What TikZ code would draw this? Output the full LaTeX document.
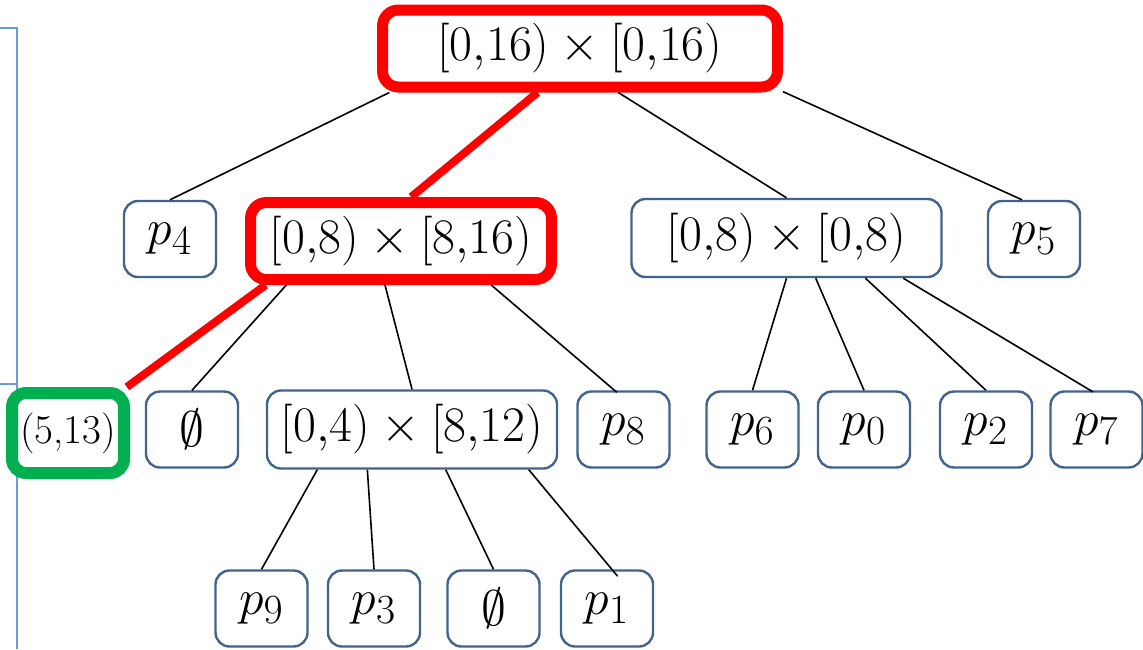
\documentclass[tikz,border=0pt]{standalone}
\definecolor{box-border}{HTML}{41648F}
\definecolor{path-red}{HTML}{FF0000}
\definecolor{hit-green}{HTML}{00B050}
\definecolor{frame-blue}{HTML}{6A9AD8}
\tikzset{
  leaf/.style={
    draw=box-border, line width=1.2pt, rounded corners=7pt,
    minimum width=46pt, minimum height=38pt, inner sep=0pt,
    font=\fontsize{24.88}{28}\selectfont
  },
  hot/.style={
    draw=path-red, line width=5.5pt, rounded corners=8pt,
    minimum height=38.5pt, inner sep=0pt, font=\fontsize{24.88}{28}\selectfont
  },
  found/.style={
    draw=hit-green, line width=6pt, rounded corners=7pt,
    minimum width=56pt, minimum height=40pt, inner sep=0pt,
    font=\fontsize{20.5}{24}\selectfont
  },
  link/.style={draw=black, line width=0.8pt},
  hotlink/.style={draw=path-red, line width=4pt},
  frame/.style={draw=frame-blue, line width=0.7pt}
}

\begin{document}
\begin{tikzpicture}[x=0.5pt, y=-0.5pt]
  \useasboundingbox (0,0) rectangle (1143,649);

  % ---- Left frame remains --------------------------------------------------
  \draw[frame] (0,28) -| (17,649);
  \draw[frame] (0,384) -- (17,384);

  % ---- Root and first level ------------------------------------------------
  \node[hot, minimum width=197.5pt] (root) at (580, 48.5) {$[0{,}16)\times[0{,}16)$};
  \node[leaf] (p4) at (170, 239) {$p_4$};
  \node[hot, minimum width=150.5pt] (nw) at (401, 241) {$[0{,}8)\times[8{,}16)$};
  \node[leaf, minimum width=155pt, minimum height=39pt] (sw) at (786.5, 238) {$[0{,}8)\times[0{,}8)$};
  \node[leaf] (p5) at (1034, 239) {$p_5$};

  % ---- Second level --------------------------------------------------------
  \node[found] (hit) at (68, 433) {(5,13)};
  \node[leaf] (empty1) at (192, 429.5) {$\emptyset$};
  \node[leaf, minimum width=145pt, minimum height=39pt] (nwsw) at (412, 429.5) {$[0{,}4)\times[8{,}12)$};
  \foreach \name/\x/\i in {p8/623.5/8, p6/752.5/6, p0/864/0, p2/986/2, p7/1096.5/7} {
    \node[leaf] (\name) at (\x, 429.5) {$p_{\i}$};
  }

  % ---- Third level ---------------------------------------------------------
  \foreach \name/\x/\i in {p9/261.5/9, p3/374/3, p1/607/1} {
    \node[leaf] (\name) at (\x, 608.5) {$p_{\i}$};
  }
  \node[leaf] (empty2) at (493.5, 608.5) {$\emptyset$};

  % ---- Connectors ----------------------------------------------------------
  \draw[link] (root.193) -- (p4.north);
  \draw[hotlink] (root.226) -- (nw.77);
  \draw[link] (root.311) -- (sw.north);
  \draw[link] (root.348) -- (p5.107);

  \draw[hotlink] (nw.198) -- (hit.38);
  \draw[link] (nw.201) -- (empty1.north);
  \draw[link] (nw.250) -- (nwsw.north);
  \draw[link, shorten >=-1.5pt] (nw.334) -- (p8.103);

  \draw[link] (sw.south) -- (p6.north);
  \draw[link] (sw.306) -- (p0.north);
  \draw[link] (sw.333) -- (p2.north);
  \draw[link, shorten >=-1.5pt] (sw.341) -- (p7.99);

  \draw[link] (nwsw.203) -- (p9.north);
  \draw[link] (nwsw.222) -- (p3.north);
  \draw[link] (nwsw.310) -- (empty2.north);
  \draw[link, shorten >=-4.5pt] (nwsw.341) -- (p1.83);

\end{tikzpicture}
\end{document}
